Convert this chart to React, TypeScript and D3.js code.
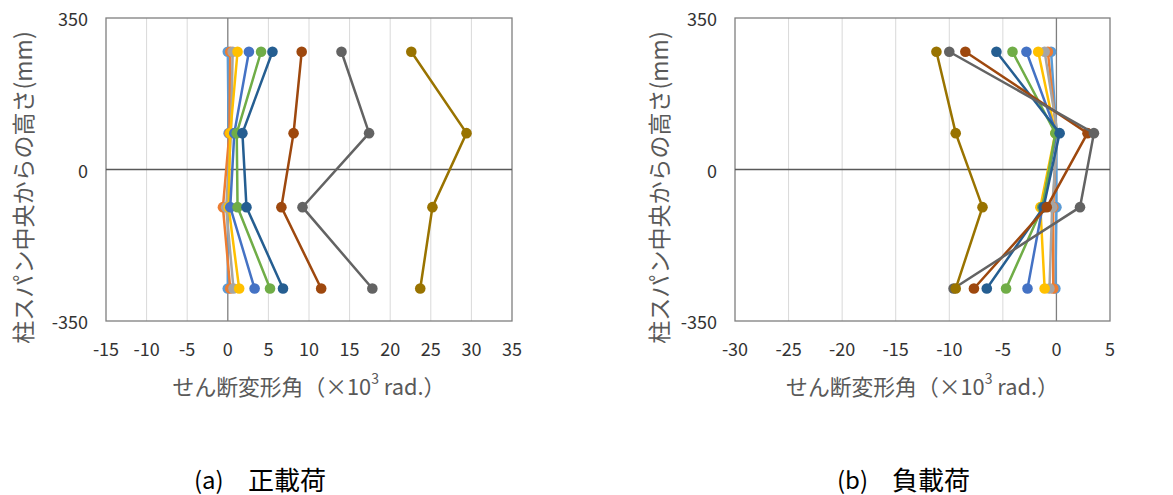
import React from "react";
import * as d3 from "d3";

// Heights of the measuring points (mm from column-span centre)
const heights = [272, 84, -87, -275];

const seriesColors = [
  "#5B9BD5", "#ED7D31", "#A5A5A5", "#FFC000", "#4472C4",
  "#70AD47", "#255E91", "#9E480E", "#636363", "#997300",
];

// (a) positive loading: shear deformation angle per series at each height
const posSeries: number[][] = [
  [0.0, 0.1, 0.0, 0.0],
  [0.3, 0.2, -0.6, 0.3],
  [0.6, 0.4, -0.2, 0.7],
  [1.2, 0.3, 0.1, 1.4],
  [2.6, 0.8, 0.3, 3.3],
  [4.1, 1.1, 1.2, 5.2],
  [5.5, 1.8, 2.3, 6.8],
  [9.1, 8.1, 6.6, 11.5],
  [14.0, 17.4, 9.2, 17.8],
  [22.6, 29.4, 25.2, 23.7],
];

// (b) negative loading
const negSeries: number[][] = [
  [-0.5, 0.0, 0.0, -0.1],
  [-0.8, 0.0, -0.3, -0.3],
  [-1.1, 0.1, -0.4, -0.65],
  [-1.7, -0.1, -1.5, -1.1],
  [-2.8, 0.0, -1.3, -2.7],
  [-4.1, -0.1, -1.3, -4.7],
  [-5.6, 0.3, -1.2, -6.5],
  [-8.5, 2.9, -0.9, -7.7],
  [-10.0, 3.5, 2.2, -9.6],
  [-11.2, -9.4, -6.9, -9.4],
];

const posTicks = [-15, -10, -5, 0, 5, 10, 15, 20, 25, 30, 35];
const negTicks = [-30, -25, -20, -15, -10, -5, 0, 5];
const yTicks = [350, 0, -350];

const yTitle = "柱スパン中央からの高さ(mm)";
const xTitleMain = "せん断変形角（×10";
const xTitleSup = "3";
const xTitleEnd = " rad.）";

const FONT = "'Noto Sans CJK JP', 'Noto Sans', sans-serif";

type PanelProps = {
  x0: number; x1: number; y0: number; y1: number;
  domain: [number, number]; ticks: number[]; data: number[][];
  yTitleX: number; caption: string; captionLabel: string;
  captionLabelX: number; captionX: number;
};

function Panel(p: PanelProps) {
  const xs = d3.scaleLinear().domain(p.domain).range([p.x0, p.x1]);
  const ys = d3.scaleLinear().domain([-350, 350]).range([p.y1, p.y0]);
  const line = d3
    .line<[number, number]>()
    .x((d) => xs(d[0]))
    .y((d) => ys(d[1]));
  const cx = (p.x0 + p.x1) / 2;
  const cy = (p.y0 + p.y1) / 2;
  return (
    <g>
      {p.ticks.map((t) =>
        t !== 0 && t !== p.domain[0] && t !== p.domain[1] ? (
          <line key={"g" + t} x1={xs(t)} x2={xs(t)} y1={p.y0} y2={p.y1} stroke="#d9d9d9" strokeWidth={1} />
        ) : null
      )}
      <rect x={p.x0} y={p.y0} width={p.x1 - p.x0} height={p.y1 - p.y0} fill="none" stroke="#7f7f7f" strokeWidth={1.3} />
      <line x1={xs(0)} x2={xs(0)} y1={p.y0} y2={p.y1} stroke="#7f7f7f" strokeWidth={1.3} />
      <line x1={p.x0} x2={p.x1} y1={ys(0)} y2={ys(0)} stroke="#595959" strokeWidth={1.3} />
      {p.data.map((s, i) => {
        const pts: [number, number][] = s.map((v, j) => [v, heights[j]]);
        return (
          <g key={"s" + i}>
            <path d={line(pts) || ""} fill="none" stroke={seriesColors[i]} strokeWidth={2.5} />
            {pts.map((pt, j) => (
              <circle key={j} cx={xs(pt[0])} cy={ys(pt[1])} r={5.3} fill={seriesColors[i]} />
            ))}
          </g>
        );
      })}
      {p.ticks.map((t) => (
        <text key={"xt" + t} x={xs(t)} y={348} textAnchor="middle" dominantBaseline="central"
          fontSize={18} fill="#333" fontFamily={FONT}>{t}</text>
      ))}
      {yTicks.map((t) => (
        <text key={"yt" + t} x={p.x0 - 18} y={ys(t)} textAnchor="end" dominantBaseline="central"
          fontSize={18} fill="#333" fontFamily={FONT}>{t}</text>
      ))}
      <text x={cx} y={385} textAnchor="middle" dominantBaseline="central" fontSize={21.8}
        fill="#595959" fontFamily={FONT}>
        {xTitleMain}
        <tspan fontSize={14} dy={-7}>{xTitleSup}</tspan>
        <tspan dy={7}>{xTitleEnd}</tspan>
      </text>
      <text transform={`translate(${p.yTitleX},${cy + 18}) rotate(-90)`} textAnchor="middle"
        dominantBaseline="central" fontSize={23} fill="#595959" fontFamily={FONT}>{yTitle}</text>
      <text x={p.captionLabelX} y={478} dominantBaseline="central" fontSize={24} fill="#000"
        fontFamily={FONT}>{p.captionLabel}</text>
      <text x={p.captionX} y={478} dominantBaseline="central" fontSize={26} fill="#000"
        fontFamily={FONT}>{p.caption}</text>
    </g>
  );
}

export default function App() {
  return (
    <svg width={1173} height={495} style={{ position: "absolute", left: 0, top: 0, background: "#fff" }}>
      <rect x={0} y={0} width={1173} height={495} fill="#fff" />
      <Panel x0={106} x1={512} y0={18} y1={321} domain={[-15, 35]} ticks={posTicks} data={posSeries}
        yTitleX={22} caption="正載荷" captionLabel="(a)" captionLabelX={194} captionX={248} />
      <Panel x0={735} x1={1110} y0={18} y1={321} domain={[-30, 5]} ticks={negTicks} data={negSeries}
        yTitleX={658} caption="負載荷" captionLabel="(b)" captionLabelX={837} captionX={892} />
    </svg>
  );
}
